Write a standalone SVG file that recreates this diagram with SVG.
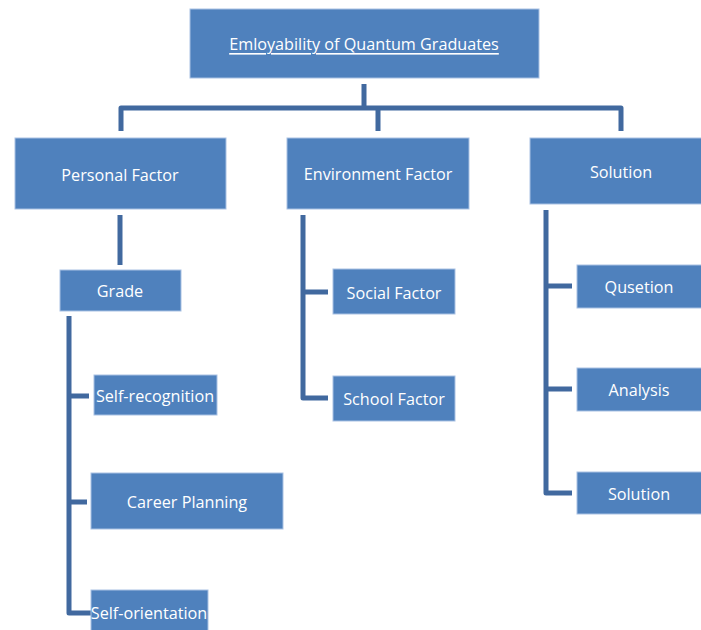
<svg xmlns="http://www.w3.org/2000/svg" width="701" height="630" viewBox="0 0 701 630">
<style>
.box{fill:#4F81BD;stroke:#A9C1E3;stroke-width:1}
.t{fill:#FFFFFF;font-family:"Open Sans","Liberation Sans",sans-serif;font-size:16.2px;text-anchor:middle;dominant-baseline:central}
.c{fill:none;stroke:#41699F;stroke-width:5;stroke-linejoin:round}
</style>
<rect width="701" height="630" fill="#FFFFFF"/>
<g id="connectors">
<path class="c" d="M364,84 V108 M121,131 V108 H621 V131 M378,108 V131"/>
<path class="c" d="M120,215 V265"/>
<path class="c" d="M89,396 H69 V316 M69,502 H87 M69,396 V613 H91"/>
<path class="c" d="M303,215 V398 H328 M303,292 H328"/>
<path class="c" d="M546,210 V493 H572 M546,286 H572 M546,389 H572"/>
</g>
<g id="n-root"><rect class="box" x="190" y="9" width="349" height="69"/><text class="t" x="364" y="44" text-decoration="underline">Emloyability of Quantum Graduates</text></g>
<g id="n-personal"><rect class="box" x="15" y="138" width="211" height="71"/><text class="t" x="120" y="175">Personal Factor</text></g>
<g id="n-environment"><rect class="box" x="287" y="138" width="182" height="71"/><text class="t" x="378" y="174">Environment Factor</text></g>
<g id="n-solution"><rect class="box" x="530" y="138" width="172" height="66"/><text class="t" x="621" y="172">Solution</text></g>
<g id="n-grade"><rect class="box" x="60" y="270" width="121" height="41"/><text class="t" x="120" y="291">Grade</text></g>
<g id="n-selfrec"><rect class="box" x="94" y="375" width="123" height="40"/><text class="t" x="155" y="396">Self-recognition</text></g>
<g id="n-career"><rect class="box" x="91" y="473" width="192" height="56"/><text class="t" x="187" y="502">Career Planning</text></g>
<g id="n-selfori"><rect class="box" x="91" y="590" width="117" height="45"/><text class="t" x="149" y="613">Self-orientation</text></g>
<g id="n-social"><rect class="box" x="333" y="269" width="122" height="45"/><text class="t" x="394" y="293">Social Factor</text></g>
<g id="n-school"><rect class="box" x="333" y="376" width="122" height="45"/><text class="t" x="394" y="399">School Factor</text></g>
<g id="n-question"><rect class="box" x="577" y="265" width="125" height="43"/><text class="t" x="639" y="287">Qusetion</text></g>
<g id="n-analysis"><rect class="box" x="577" y="368" width="125" height="43"/><text class="t" x="639" y="390">Analysis</text></g>
<g id="n-solution2"><rect class="box" x="577" y="472" width="125" height="42"/><text class="t" x="639" y="494">Solution</text></g>
</svg>
